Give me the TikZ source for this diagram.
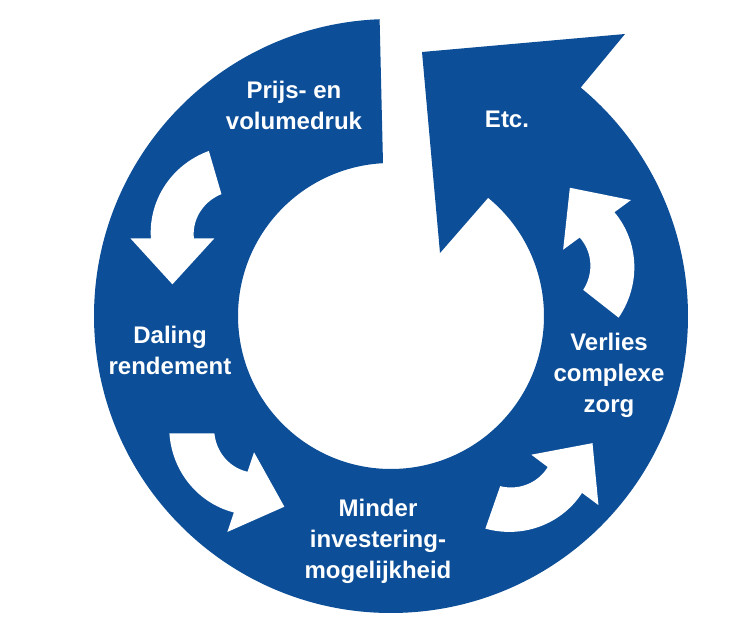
\documentclass[tikz,border=0pt]{standalone}
\usepackage{fontspec}
\setmainfont{Liberation Sans}
\definecolor{ringblue}{RGB}{13,78,152}
\tikzset{
  lbl/.style={text=white, font=\bfseries\fontsize{24}{31}\selectfont, align=center, inner sep=0pt},
  ringfill/.style={fill=ringblue},
  arrowfill/.style={fill=white}
}
% #1,#2: pixel centre of the curved arrow; #3: tail angle; #4: head angle
\newcommand{\cyclearrow}[4]{%
  \begin{scope}[shift={(#1,-#2)}]
    \fill[arrowfill] plot[variable=\q, domain=0:1, samples=30] ({#3+(#4-#3)*\q}:{91-7.5*\q})
      -- (#4:104)
      -- ({62*cos(#4)-46*sin(#4)},{62*sin(#4)+46*cos(#4)})
      -- (#4:20)
      -- plot[variable=\q, domain=0:1, samples=30] ({#4+(#3-#4)*\q}:{40.5+5.5*\q})
      -- cycle;
  \end{scope}}
\begin{document}
\begin{tikzpicture}[x=1pt,y=1pt]
  \fill[white] (0,0) rectangle (736,-636);
  \begin{scope}[shift={(391,-316)}]
    \fill[ringfill] (92.2:297) arc[start angle=92.2, end angle=410.3, radius=297]
      -- (234,282) -- (31,264) -- (49,63) -- (50.6:153)
      arc[start angle=50.6, end angle=-267, radius=153] -- cycle;
  \end{scope}
  \cyclearrow{234.4}{238.3}{106.3}{180}
  \cyclearrow{260.4}{433.3}{180}{251.5}
  \cyclearrow{515.3}{442.7}{250.8}{323.1}
  \cyclearrow{547}{261.5}{321.9}{396.2}
  \node[lbl] (prijs) at (294,-105) {Prijs- en\\volumedruk};
  \node[lbl] (etc) at (507,-119.5) {Etc.};
  \node[lbl] (daling) at (170,-350) {Daling\\rendement};
  \node[lbl] (verlies) at (609,-375) {Verlies\\complexe\\zorg};
  \node[lbl] (minder) at (378,-541) {Minder\\investering-\\mogelijkheid};
\end{tikzpicture}
\end{document}
